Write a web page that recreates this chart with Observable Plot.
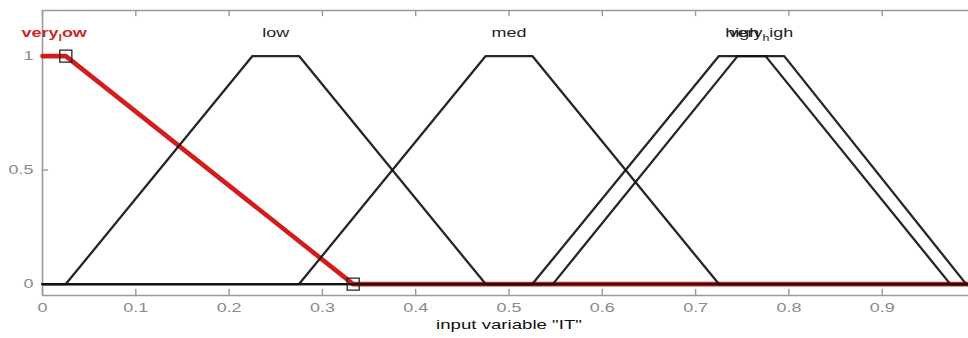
<!DOCTYPE html>
<html>
<head>
<meta charset="utf-8">
<script src="https://cdn.jsdelivr.net/npm/d3@7"></script>
<script src="https://cdn.jsdelivr.net/npm/@observablehq/plot@0.6"></script>
<style>
  html, body { margin: 0; padding: 0; background: #fff; overflow: hidden; }
  #chart { width: 990px; }
  #chart svg { display: block; background: #fff; max-width: none !important; width: 990px !important; height: 338px !important; }
</style>
</head>
<body>
<div id="chart"></div>
<script>
// Membership functions of input variable "IT" (trapezoids a, b, c, d)
const mfNames = ["very_low", "low", "med", "high", "very_high"];
const mfA = [-0.3, 0.025, 0.275, 0.525, 0.547];
const mfB = [0.0, 0.225, 0.475, 0.725, 0.745];
const mfC = [0.025, 0.275, 0.525, 0.775, 0.795];
const mfD = [0.333, 0.475, 0.725, 0.973, 0.99];
const selectedMf = "very_low";

// Axis ticks (the "1" label lies beyond the visible right edge in the reference)
const xTicks = [0, 0.1, 0.2, 0.3, 0.4, 0.5, 0.6, 0.7, 0.8, 0.9, 1];
const xLabelTicks = [0, 0.1, 0.2, 0.3, 0.4, 0.5, 0.6, 0.7, 0.8, 0.9];
const xTickLabels = ["0", "0.1", "0.2", "0.3", "0.4", "0.5", "0.6", "0.7", "0.8", "0.9"];
const yTicks = [0, 0.5, 1];
const yTickLabels = ["0", "0.5", "1"];
const xDomain = [0, 1];
const yDomain = [-0.05, 1.2];
const xTitle = 'input variable "IT"';

// Build polyline vertices of each trapezoid, clipped to [0, 1]
function vertices(i) {
  const pts = [];
  if (mfA[i] < xDomain[0]) {
    pts.push({x: xDomain[0], y: 1, mf: mfNames[i]});
    pts.push({x: mfC[i], y: 1, mf: mfNames[i]});
    pts.push({x: mfD[i], y: 0, mf: mfNames[i]});
    pts.push({x: xDomain[1], y: 0, mf: mfNames[i]});
  } else {
    [[xDomain[0], 0], [mfA[i], 0], [mfB[i], 1], [mfC[i], 1], [mfD[i], 0], [xDomain[1], 0]]
      .forEach(([x, y]) => pts.push({x, y, mf: mfNames[i]}));
  }
  return pts;
}
const allPts = mfNames.map((_, i) => vertices(i));
const selIdx = mfNames.indexOf(selectedMf);
const selPts = allPts[selIdx];
const otherPts = allPts.filter((_, i) => i !== selIdx).flat();
const markerPts = [
  {x: mfC[selIdx], y: 1},
  {x: mfD[selIdx], y: 0}
];
const labels = mfNames.map((name, i) => ({
  name,
  x: (Math.max(mfB[i], xDomain[0]) + mfC[i]) / 2,
  y: 1.1,
  selected: name === selectedMf
}));

const frameColor = "#9a9a9a";
const tickColor = "#8a8a8a";
const fontFamily = "'Liberation Sans', Arial, Helvetica, sans-serif";

const chart = Plot.plot({
  width: 990,
  height: 338,
  marginLeft: 42,
  marginRight: 15,
  marginTop: 10,
  marginBottom: 43,
  style: {fontFamily, fontSize: "13px", background: "#fff"},
  x: {domain: xDomain},
  y: {domain: yDomain},
  marks: [
    // frame
    Plot.ruleY(yDomain, {stroke: frameColor, strokeWidth: 1.6}),
    Plot.ruleX(xDomain, {y1: yDomain[0], y2: yDomain[1], stroke: frameColor, strokeWidth: 1.6}),
    // inward tick marks
    Plot.ruleX(xTicks, {x: d => d, y1: yDomain[0], y2: yDomain[0] + 0.027, stroke: frameColor, strokeWidth: 1.4}),
    Plot.ruleX(xTicks, {x: d => d, y1: yDomain[1], y2: yDomain[1] - 0.027, stroke: frameColor, strokeWidth: 1.4}),
    Plot.ruleY(yTicks, {y: d => d, x1: xDomain[0], x2: xDomain[0] + 0.0065, stroke: frameColor, strokeWidth: 1.4}),
    Plot.ruleY(yTicks, {y: d => d, x1: xDomain[1], x2: xDomain[1] - 0.0065, stroke: frameColor, strokeWidth: 1.4}),
    // tick labels
    Plot.axisX(xLabelTicks, {tickSize: 0, tickPadding: 7, tickFormat: d => xTickLabels[xLabelTicks.indexOf(d)], fill: tickColor, fontSize: 13, label: null}),
    Plot.axisY(yTicks, {tickSize: 0, tickPadding: 9, tickFormat: d => yTickLabels[yTicks.indexOf(d)], fill: tickColor, fontSize: 13, label: null}),
    // selected MF (red, thick)
    Plot.line(selPts, {x: "x", y: "y", stroke: "#d41c1c", strokeWidth: 4.6}),
    // other MFs
    Plot.line(otherPts, {x: "x", y: "y", z: "mf", stroke: "#141414", strokeWidth: 2.3, strokeOpacity: 0.92}),
    // markers on selected MF
    Plot.dot(markerPts, {x: "x", y: "y", symbol: "square", r: 6.8, fill: "none", stroke: "#222", strokeWidth: 1.3}),
    // MF labels
    Plot.text(labels.filter(d => !d.selected), {x: "x", y: "y", text: "name", fill: "#1e1e1e", fontSize: 13}),
    Plot.text(labels.filter(d => d.selected), {x: "x", y: "y", text: "name", fill: "#c42a2a", fontWeight: "bold", fontSize: 13}),
    // axis title
    Plot.text([xTitle], {x: (xDomain[0] + xDomain[1]) / 2, frameAnchor: "bottom", dy: 33, text: d => d, fill: "#111", fontSize: 13.5})
  ]
});

document.getElementById("chart").appendChild(chart);

// MATLAB-style TeX rendering of underscores (subscript next char)
chart.querySelectorAll("text").forEach(t => {
  if (t.querySelector("tspan")) return;
  const s = t.textContent;
  const k = s.indexOf("_");
  if (k >= 0 && k < s.length - 1) {
    t.textContent = "";
    const ns = "http://www.w3.org/2000/svg";
    const a = document.createElementNS(ns, "tspan"); a.textContent = s.slice(0, k);
    const b = document.createElementNS(ns, "tspan"); b.textContent = s[k + 1];
    b.setAttribute("font-size", "9"); b.setAttribute("dy", "4");
    const c = document.createElementNS(ns, "tspan"); c.textContent = s.slice(k + 2);
    c.setAttribute("dy", "-4");
    t.append(a, b, c);
  }
});
// the reference image is horizontally stretched: widen glyphs accordingly
chart.querySelectorAll("text").forEach(t => {
  const w = t.getComputedTextLength();
  if (w > 0) {
    t.setAttribute("textLength", (w * 1.38).toFixed(1));
    t.setAttribute("lengthAdjust", "spacingAndGlyphs");
  }
});
</script>
</body>
</html>
